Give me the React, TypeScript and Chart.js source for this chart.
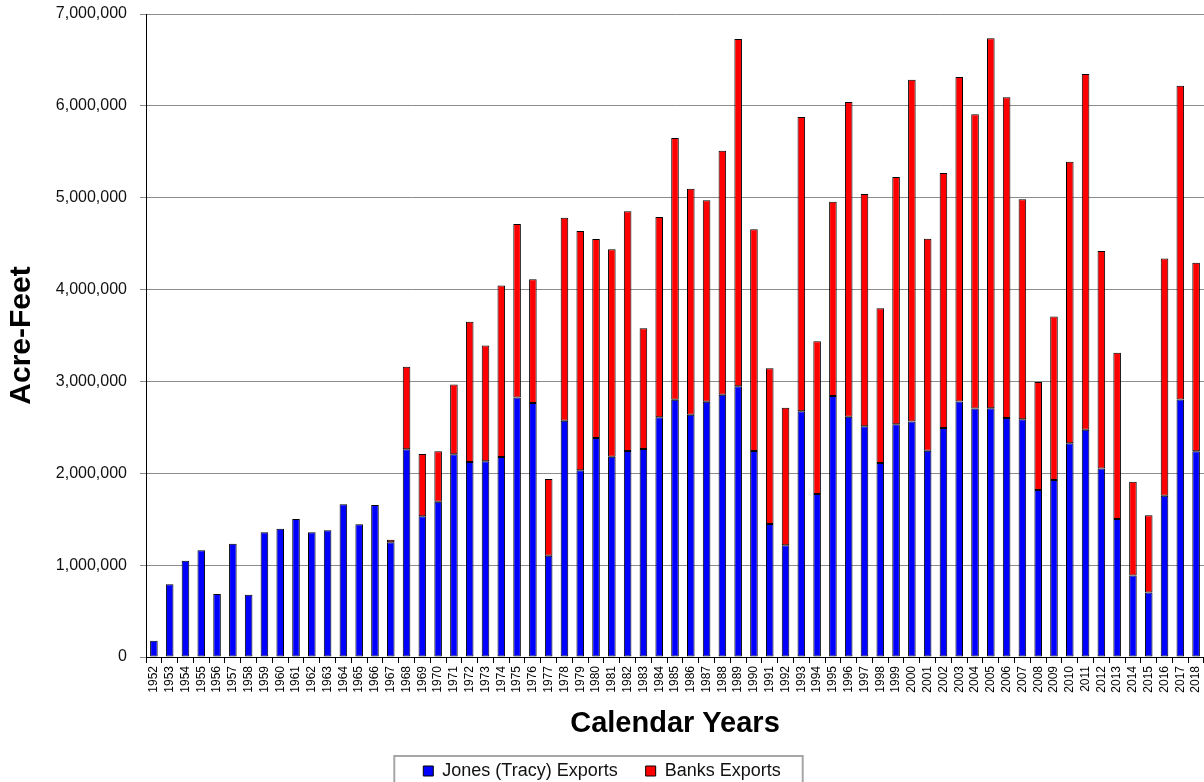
import React, { useEffect, useRef } from "react";
import { Chart, registerables } from "chart.js";

Chart.register(...registerables);

const years = [
  "1952", "1953", "1954", "1955", "1956", "1957", "1958", "1959", "1960", "1961",
  "1962", "1963", "1964", "1965", "1966", "1967", "1968", "1969", "1970", "1971",
  "1972", "1973", "1974", "1975", "1976", "1977", "1978", "1979", "1980", "1981",
  "1982", "1983", "1984", "1985", "1986", "1987", "1988", "1989", "1990", "1991",
  "1992", "1993", "1994", "1995", "1996", "1997", "1998", "1999", "2000", "2001",
  "2002", "2003", "2004", "2005", "2006", "2007", "2008", "2009", "2010", "2011",
  "2012", "2013", "2014", "2015", "2016", "2017", "2018",
];

const jonesExports = [
  177000, 791000, 1048000, 1161000, 686000, 1233000, 678000, 1357000, 1397000, 1502000,
  1357000, 1379000, 1662000, 1444000, 1655000, 1249000, 2261000, 1532000, 1691000, 2207000,
  2123000, 2130000, 2177000, 2825000, 2765000, 1103000, 2572000, 2032000, 2384000, 2181000,
  2243000, 2264000, 2609000, 2801000, 2638000, 2779000, 2855000, 2947000, 2243000, 1448000,
  1216000, 2675000, 1774000, 2841000, 2616000, 2511000, 2111000, 2534000, 2565000, 2246000,
  2493000, 2781000, 2705000, 2709000, 2601000, 2588000, 1818000, 1926000, 2327000, 2475000,
  2052000, 1503000, 887000, 702000, 1755000, 2804000, 2241000,
];

const banksExports = [
  0, 0, 0, 0, 0, 0, 0, 0, 0, 0,
  0, 0, 0, 0, 0, 28000, 900000, 678000, 548000, 760000,
  1527000, 1260000, 1868000, 1890000, 1347000, 835000, 2210000, 2606000, 2166000, 2257000,
  2609000, 1314000, 2181000, 2849000, 2460000, 2193000, 2657000, 3781000, 2413000, 1695000,
  1498000, 3204000, 1663000, 2116000, 3426000, 2530000, 1687000, 2691000, 3718000, 2308000,
  2777000, 3533000, 3204000, 4028000, 3493000, 2394000, 1175000, 1782000, 3065000, 3871000,
  2367000, 1809000, 1021000, 842000, 2583000, 3416000, 2052000,
];

const yMin = 0;
const yMax = 7000000;
const yStep = 1000000;

const FONT = "'Liberation Sans', Arial, sans-serif";

export default function App() {
  const ref = useRef<HTMLCanvasElement | null>(null);

  useEffect(() => {
    document.body.style.margin = "0";
    const canvas = ref.current;
    if (!canvas) return;

    const legendBorder = {
      id: "legendBorder",
      afterDraw(chart: any) {
        const lg = chart.legend;
        const hb = lg && lg.legendHitBoxes;
        if (!hb || !hb.length) return;
        const left = Math.min(...hb.map((h: any) => h.left)) - 29;
        const right = Math.max(...hb.map((h: any) => h.left + h.width)) + 22;
        const center = hb[0].top + hb[0].height / 2;
        const top = center - 15;
        const ctx = chart.ctx;
        ctx.save();
        ctx.strokeStyle = "#a6a6a6";
        ctx.lineWidth = 2;
        ctx.strokeRect(left, top, right - left, chart.height - top + 20);
        ctx.restore();
      },
    };

    Chart.defaults.font.family = FONT;

    const chart = new Chart(canvas, {
      type: "bar",
      data: {
        labels: years,
        datasets: [
          {
            label: "Jones (Tracy) Exports",
            data: jonesExports,
            backgroundColor: "#0000ff",
            borderColor: "#000000",
            borderWidth: 1,
            borderSkipped: false,
            barPercentage: 0.48,
            categoryPercentage: 1,
          },
          {
            label: "Banks Exports",
            data: banksExports,
            backgroundColor: "#ff0000",
            borderColor: "#000000",
            borderWidth: 1,
            borderSkipped: false,
            barPercentage: 0.48,
            categoryPercentage: 1,
          },
        ],
      },
      options: {
        animation: false,
        responsive: false,
        maintainAspectRatio: false,
        layout: { padding: { top: 14, left: 0, right: 0, bottom: -8 } },
        plugins: {
          legend: {
            position: "bottom",
            labels: {
              font: { family: FONT, size: 18 },
              color: "#111",
              boxWidth: 10,
              boxHeight: 10,
              padding: 28,
            },
          },
          tooltip: { enabled: false },
        },
        scales: {
          x: {
            stacked: true,
            grid: {
              display: true,
              drawOnChartArea: false,
              drawTicks: true,
              tickLength: 6,
              color: "#000",
              offset: true,
            },
            border: { color: "#000", width: 1 },
            ticks: {
              autoSkip: false,
              minRotation: 90,
              maxRotation: 90,
              padding: 3,
              color: "#000",
              font: { family: FONT, size: 12 },
            },
            title: {
              display: true,
              text: "Calendar Years",
              color: "#000",
              font: { family: FONT, size: 29, weight: "bold" },
              padding: { top: 4, bottom: -7 },
            },
            afterFit: (s: any) => {
              s.paddingLeft = 0;
              s.paddingRight = 0;
              const lh = s.chart.legend ? s.chart.legend.height : 57;
              s.height = 790 - 657 - lh;
            },
          },
          y: {
            stacked: true,
            min: yMin,
            max: yMax,
            grid: {
              color: "#8c8c8c",
              lineWidth: 1,
              drawTicks: true,
              tickLength: 6,
            },
            border: { color: "#000", width: 1 },
            ticks: {
              stepSize: yStep,
              padding: 13,
              color: "#111",
              font: { family: FONT, size: 16 },
              callback: (v: any) => Number(v).toLocaleString("en-US"),
            },
            title: {
              display: true,
              text: "Acre-Feet",
              color: "#000",
              font: { family: FONT, size: 30, weight: "bold" },
              padding: { top: 4, bottom: 0 },
            },
            afterFit: (s: any) => {
              s.width = 146;
              s.paddingTop = 0;
              s.paddingBottom = 0;
            },
          },
        },
      },
      plugins: [legendBorder],
    } as any);

    return () => chart.destroy();
  }, []);

  return (
    <div style={{ position: "fixed", left: 0, top: 0, width: 1204, height: 782, background: "#fff" }}>
      <canvas ref={ref} width={1204} height={782} style={{ display: "block" }} />
    </div>
  );
}
